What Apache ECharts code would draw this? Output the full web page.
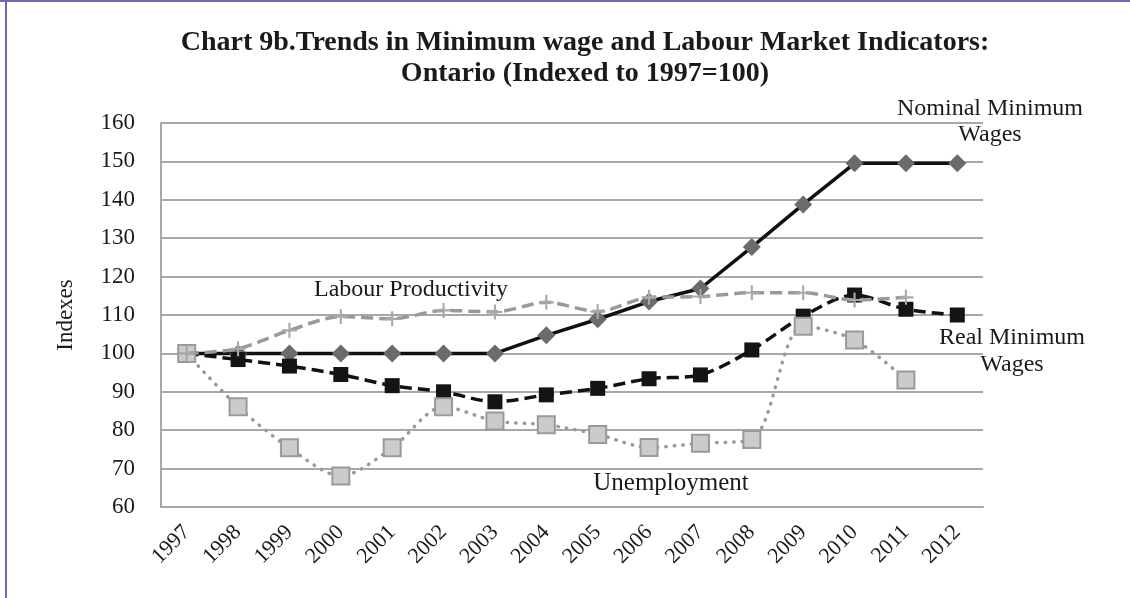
<!DOCTYPE html>
<html>
<head>
<meta charset="utf-8">
<script src="https://cdn.jsdelivr.net/npm/echarts@6/dist/echarts.min.js"></script>
<style>
  html, body { margin: 0; padding: 0; background: #fff; }
  #chart { width: 1130px; height: 598px; }
</style>
</head>
<body>
<div id="chart"></div>
<script>
// Ontario minimum wage vs labour market indicators, indexed to 1997 = 100
const years = ['1997','1998','1999','2000','2001','2002','2003','2004','2005','2006','2007','2008','2009','2010','2011','2012'];
const nominalMinWage = [100, 100, 100, 100, 100, 100, 100, 104.7, 108.9, 113.5, 116.9, 127.7, 138.8, 149.5, 149.5, 149.5];
const realMinWage    = [100, 98.4, 96.7, 94.5, 91.6, 90.0, 87.4, 89.2, 90.9, 93.4, 94.4, 100.9, 109.7, 115.2, 111.5, 110.0];
const labourProd     = [100, 101.2, 106.0, 109.6, 109.0, 111.2, 110.8, 113.3, 110.9, 114.6, 114.8, 115.8, 115.8, 113.9, 114.6, null];
const unemployment   = [100, 86.1, 75.4, 68.1, 75.4, 86.1, 82.4, 81.4, 78.9, 75.5, 76.6, 77.6, 107.1, 103.5, 93.1, null];
const yTicks = { min: 60, max: 160, step: 10 };

const serif = '"Liberation Serif", "DejaVu Serif", serif';
const plusPath = 'path://M4.3,0 L5.7,0 L5.7,4.3 L10,4.3 L10,5.7 L5.7,5.7 L5.7,10 L4.3,10 L4.3,5.7 L0,5.7 L0,4.3 L4.3,4.3 Z';

const chart = echarts.init(document.getElementById('chart'), null, { renderer: 'canvas' });

chart.setOption({
  backgroundColor: '#ffffff',
  animation: false,
  title: {
    text: 'Chart 9b.Trends in Minimum wage and Labour Market Indicators:\nOntario (Indexed to 1997=100)',
    left: 580,
    top: 22,
    textAlign: 'center',
    textStyle: {
      fontFamily: serif,
      fontWeight: 'bold',
      fontSize: 28,
      lineHeight: 31,
      color: '#1a1a1a'
    }
  },
  grid: { left: 161, right: 147, top: 123, bottom: 91, containLabel: false },
  xAxis: {
    type: 'category',
    data: years,
    boundaryGap: true,
    axisLine: { show: true, lineStyle: { color: '#a8a8a8', width: 2 } },
    axisTick: { show: false },
    axisLabel: {
      rotate: 45,
      margin: 22,
      fontFamily: serif,
      fontSize: 22,
      color: '#1a1a1a'
    }
  },
  yAxis: {
    type: 'value',
    min: yTicks.min,
    max: yTicks.max,
    interval: yTicks.step,
    name: 'Indexes',
    nameLocation: 'middle',
    nameGap: 84,
    nameRotate: 90,
    nameTextStyle: { fontFamily: serif, fontSize: 23, color: '#1a1a1a' },
    axisLine: { show: true, lineStyle: { color: '#a8a8a8', width: 2 } },
    axisTick: { show: false },
    axisLabel: { margin: 26, fontFamily: serif, fontSize: 23, color: '#1a1a1a' },
    splitLine: { show: true, lineStyle: { color: '#a8a8a8', width: 2 } }
  },
  series: [
    {
      name: 'Nominal Minimum Wages',
      type: 'line',
      data: nominalMinWage,
      z: 2,
      symbol: 'diamond',
      symbolSize: [18, 18],
      itemStyle: { color: '#6b6b6b' },
      lineStyle: { color: '#111111', width: 3.5, type: 'solid' }
    },
    {
      name: 'Real Minimum Wages',
      type: 'line',
      data: realMinWage,
      z: 3,
      smooth: 0.3,
      symbol: 'rect',
      symbolSize: 15,
      itemStyle: { color: '#141414' },
      lineStyle: { color: '#111111', width: 3.5, type: [12, 6] }
    },
    {
      name: 'Unemployment',
      type: 'line',
      data: unemployment,
      z: 4,
      smooth: 0.3,
      symbol: 'rect',
      symbolSize: 17,
      itemStyle: { color: '#cbcbcb', borderColor: '#9a9a9a', borderWidth: 2 },
      lineStyle: { color: '#9a9a9a', width: 3.5, type: [0.5, 8], cap: 'round' }
    },
    {
      name: 'Labour Productivity',
      type: 'line',
      data: labourProd,
      z: 5,
      smooth: 0.3,
      symbol: plusPath,
      symbolSize: 15,
      itemStyle: { color: '#a8a8a8' },
      lineStyle: { color: '#999999', width: 3.5, type: [12, 6] }
    }
  ],
  graphic: [
    { type: 'rect', left: 0, top: 0, shape: { width: 1130, height: 2 }, style: { fill: '#6c6cae' } },
    { type: 'rect', left: 5, top: 0, shape: { width: 2, height: 598 }, style: { fill: '#6c6cae' } },
    { type: 'text', style: { x: 411, y: 290, text: 'Labour Productivity', font: '24px ' + serif, fill: '#1a1a1a', align: 'center', verticalAlign: 'middle' } },
    { type: 'text', style: { x: 671, y: 483, text: 'Unemployment', font: '25px ' + serif, fill: '#1a1a1a', align: 'center', verticalAlign: 'middle' } },
    { type: 'text', style: { x: 990, y: 122, text: 'Nominal Minimum\nWages', font: '24px ' + serif, fill: '#1a1a1a', align: 'center', verticalAlign: 'middle', lineHeight: 26 } },
    { type: 'text', style: { x: 1012, y: 351, text: 'Real Minimum\nWages', font: '24px ' + serif, fill: '#1a1a1a', align: 'center', verticalAlign: 'middle', lineHeight: 27 } }
  ]
});
</script>
</body>
</html>
